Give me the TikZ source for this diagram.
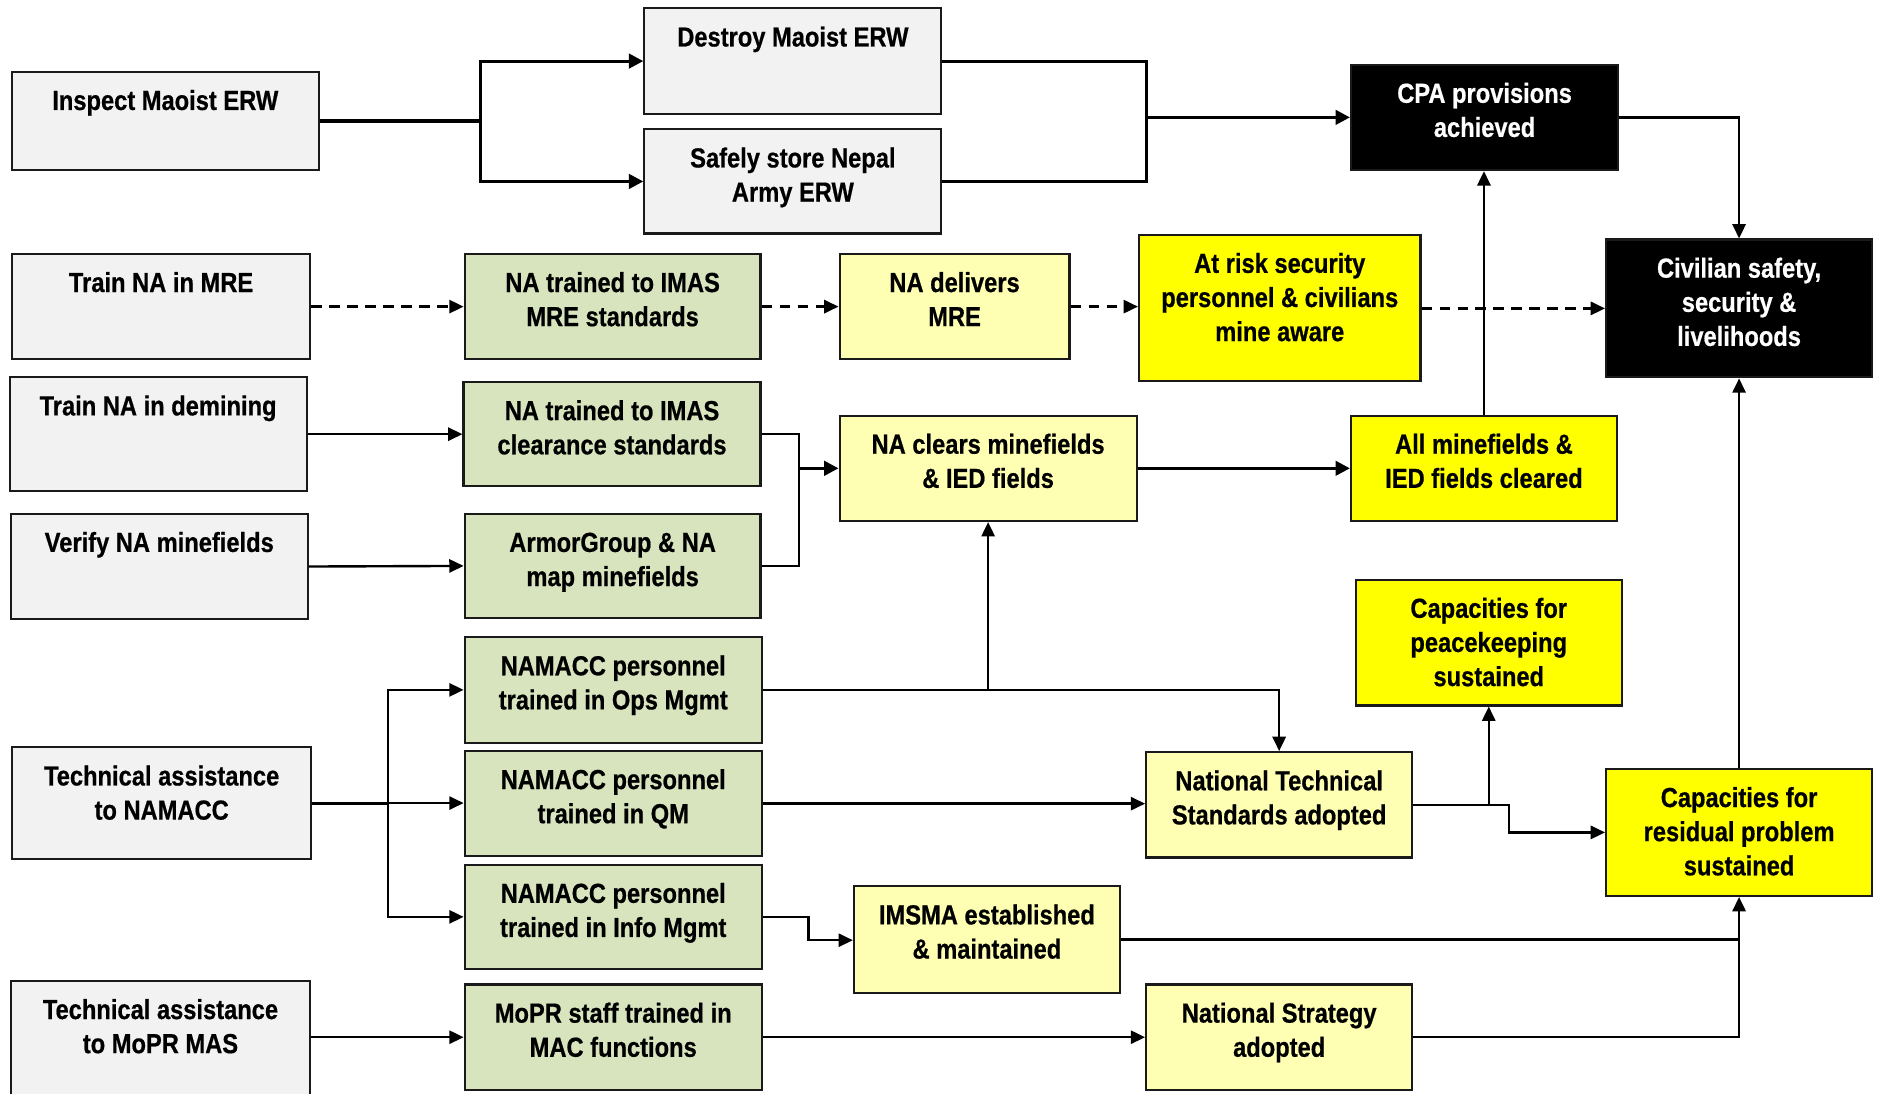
\documentclass[tikz,border=0pt]{standalone}
\usepackage{fontspec}
\setmainfont[FakeStretch=0.86,FakeBold=0.6]{Liberation Sans}
\usetikzlibrary{arrows.meta,fit}
\definecolor{gfill}{HTML}{F2F2F2}
\definecolor{grfill}{HTML}{D7E4BD}
\definecolor{lyfill}{HTML}{FFFFB4}
\definecolor{yfill}{HTML}{FFFF00}
\definecolor{bord}{HTML}{1A1A1A}
\tikzset{
  bx/.style={draw=bord, line width=1.8pt, inner sep=0pt},
  gbox/.style={bx, fill=gfill},
  grbox/.style={bx, fill=grfill},
  lybox/.style={bx, fill=lyfill},
  ybox/.style={bx, fill=yfill},
  kbox/.style={bx, fill=black},
  btext/.style={anchor=north, inner sep=0pt, align=center, text=black,
    font=\fontsize{23}{28.5}\selectfont\bfseries},
  wtext/.style={text=white},
  ktext/.style={},
  con/.style={line width=2pt, draw=black},
  thk/.style={line width=2.6pt, draw=black},
  arr/.style={con, -{Triangle[length=12pt,width=11pt]}},
  tarr/.style={thk, -{Triangle[length=12pt,width=12pt]}},
  dsh/.style={arr, dash pattern=on 9pt off 6pt},
}
\newcommand\mybox[8]{%
  \node[#2, fit={(#4,#5) (#6,#7)}] (#1) {};
  \node[btext,#3] (#1-t) at ([yshift=-15.5pt]#1.north) {\rule{0pt}{17pt}#8};
}
\begin{document}
\begin{tikzpicture}[x=1pt,y=-1pt]
\useasboundingbox (0,0) rectangle (1568,913);
\clip (0,0) rectangle (1568,913);
\fill[white] (0,0) rectangle (1568,913);

% column 1
\mybox{insp}{gbox}{ktext}{10}{60}{266}{142}{Inspect Maoist ERW}
\mybox{tmre}{gbox}{ktext}{10}{212}{259}{300}{Train NA in MRE}
\mybox{tdem}{gbox}{ktext}{8}{315}{256}{410}{Train NA in demining}
\mybox{ver}{gbox}{ktext}{9}{429}{257}{517}{Verify NA minefields}
\mybox{tna}{gbox}{ktext}{10}{624}{260}{717}{Technical assistance\\to NAMACC}
\mybox{tam}{gbox}{ktext}{9}{819}{259}{940}{Technical assistance\\to MoPR MAS}

% column 2
\mybox{destroy}{gbox}{ktext}{538}{7}{786}{95}{Destroy Maoist ERW}
\mybox{store}{gbox}{ktext}{538}{108}{786}{195}{Safely store Nepal\\Army ERW}
\mybox{natmre}{grbox}{ktext}{388}{212}{635}{300}{NA trained to IMAS\\MRE standards}
\mybox{clr}{grbox}{ktext}{387}{319}{635}{406}{NA trained to IMAS\\clearance standards}
\mybox{amg}{grbox}{ktext}{388}{429}{635}{516}{ArmorGroup \& NA\\map minefields}
\mybox{ops}{grbox}{ktext}{388}{532}{636}{620}{NAMACC personnel\\trained in Ops Mgmt}
\mybox{qm}{grbox}{ktext}{388}{627}{636}{715}{NAMACC personnel\\trained in QM}
\mybox{info}{grbox}{ktext}{388}{722}{636}{809}{NAMACC personnel\\trained in Info Mgmt}
\mybox{mopr}{grbox}{ktext}{388}{822}{636}{910}{MoPR staff trained in\\MAC functions}

% column 3
\mybox{nadel}{lybox}{ktext}{701}{212}{893}{300}{NA delivers\\MRE}
\mybox{nac}{lybox}{ktext}{701}{347}{949}{435}{NA clears minefields\\\& IED fields}
\mybox{imsma}{lybox}{ktext}{713}{740}{935}{829}{IMSMA established\\\& maintained}

% column 4
\mybox{atrisk}{ybox}{ktext}{951}{196}{1186}{318}{At risk security\\personnel \& civilians\\mine aware}
\mybox{nts}{lybox}{ktext}{957}{628}{1179}{716}{National Technical\\Standards adopted}
\mybox{ns}{lybox}{ktext}{957}{822}{1179}{910}{National Strategy\\adopted}
\mybox{cpa}{kbox}{wtext}{1128}{54}{1351}{142}{CPA provisions\\achieved}
\mybox{allmf}{ybox}{ktext}{1128}{347}{1350}{435}{All minefields \&\\IED fields cleared}
\mybox{pk}{ybox}{ktext}{1132}{484}{1354}{589}{Capacities for\\peacekeeping\\sustained}

% column 5
\mybox{civ}{kbox}{wtext}{1341}{200}{1563}{315}{Civilian safety,\\security \&\\livelihoods}
\mybox{res}{ybox}{ktext}{1341}{642}{1563}{748}{Capacities for\\residual problem\\sustained}

% connectors: top
\coordinate (j1) at (401,101);
\draw[thk] (insp.east) -- (j1);
\draw[tarr] (j1) |- (destroy.west);
\draw[tarr] (j1) |- (store.west);
\coordinate (j2) at (957,98);
\draw[thk] (destroy.east) -| (j2);
\draw[thk] (store.east) -| (j2);
\draw[tarr] (j2) -- (cpa.west |- j2);
\draw[arr] (cpa.east) -| (civ.north);

% dashed MRE chain
\draw[dsh] (tmre.east) -- (natmre.west);
\draw[dsh] (natmre.east) -- (nadel.west);
\draw[dsh] (nadel.east) -- (nadel.east -| atrisk.west);
\draw[dsh] (atrisk.east |- civ.west) -- (civ.west);

% clearance
\draw[arr] (tdem.east) -- (clr.west);
\draw[arr] (ver.east) -- (amg.west);
\coordinate (j3) at (667,391);
\draw[con] (clr.east) -| (j3);
\draw[con] (amg.east) -| (j3);
\draw[tarr] (j3) -- (nac.west);
\draw[tarr] (nac.east) -- (allmf.west);
\draw[arr] (allmf.north) -- (cpa.south -| allmf.north);

% NAMACC
\coordinate (j5) at (324,670.5);
\draw[thk] (tna.east) -- (j5);
\draw[arr] (j5) |- (ops.west);
\draw[arr] (j5) |- (info.west);
\draw[arr] (j5) -- (qm.west |- j5);
\draw[con] (ops.east) -- (nac.south |- ops.east);
\draw[arr] (nac.south |- ops.east) -| (nts.north);
\draw[arr] (nac.south |- ops.east) -- (nac.south);
\draw[arr] (qm.east) -- (nts.west |- qm.east);
\draw[arr] (nts.east) -| (pk.south);
\coordinate (j6) at (1260,672);
\draw[arr] (nts.east) -- (j6) |- (res.west);
\coordinate (j7) at (675,785);
\draw[arr] (info.east) -| (j7) -- (imsma.west |- j7);
\draw[arr] (imsma.east) -| (res.south);
\draw[arr] (mopr.west -| tam.east) -- (mopr.west);
\draw[arr] (mopr.east) -- (ns.west);
\draw[con] (ns.east) -| (res.south |- imsma.east);
\draw[arr] (res.north) -- (civ.south);
\end{tikzpicture}
\end{document}
